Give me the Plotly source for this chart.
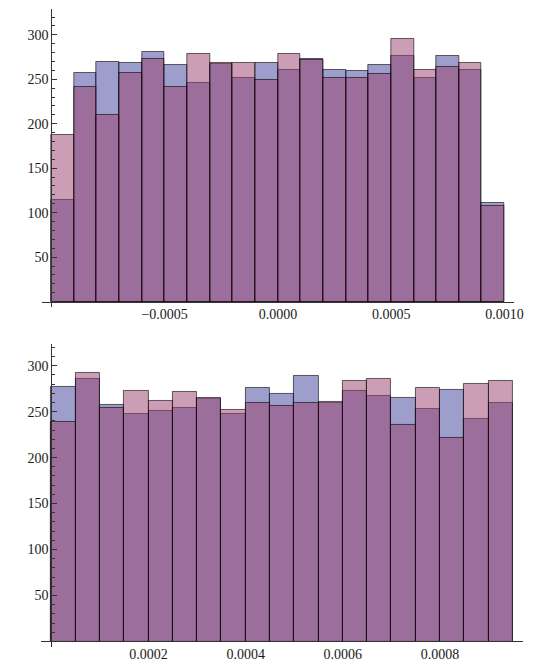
import plotly.graph_objects as go

# ---- top histogram: 20 bins of width 1e-4 from -0.001 to 0.001 ----
top_bin_start = -0.001
top_bin_width = 0.0001
top_blue = [114, 257, 270, 268, 281, 266, 246, 267, 252, 268,
            261, 273, 261, 259, 266, 276, 251, 276, 260, 111]
top_pink = [187, 241, 210, 257, 273, 241, 279, 268, 268, 249,
            279, 272, 252, 252, 256, 295, 261, 264, 268, 107]
top_tickvals = [-0.0005, 0.0, 0.0005, 0.001]
top_ticktext = ["\u22120.0005", "0.0000", "0.0005", "0.0010"]

# ---- bottom histogram: 19 bins of width 5e-5 from 0 to 0.00095 ----
bot_bin_start = 0.0
bot_bin_width = 0.00005
bot_blue = [277, 286, 257, 248, 251, 254, 264, 247, 276, 269,
            289, 259, 273, 267, 265, 253, 274, 242, 260]
bot_pink = [239, 292, 254, 273, 262, 271, 265, 252, 260, 256,
            260, 261, 283, 286, 236, 276, 221, 280, 283]
bot_tickvals = [0.0002, 0.0004, 0.0006, 0.0008]
bot_ticktext = ["0.0002", "0.0004", "0.0006", "0.0008"]

y_major = [50, 100, 150, 200, 250, 300]

BLUE = "rgba(61,61,153,0.5)"
PINK = "rgba(153,61,107,0.5)"
EDGE = "rgba(0,0,0,0.6)"
AXIS = "#333333"
FONT = dict(family="Liberation Serif", size=14, color="#1a1a1a")

W, H = 540, 662


def centers(start, width, n):
    return [start + width * (i + 0.5) for i in range(n)]


fig = go.Figure()

for vals, col in ((top_blue, BLUE), (top_pink, PINK)):
    fig.add_trace(go.Bar(
        x=centers(top_bin_start, top_bin_width, len(vals)), y=vals,
        width=top_bin_width, marker=dict(color=col, line=dict(color=EDGE, width=1)),
        xaxis="x", yaxis="y", showlegend=False, hoverinfo="skip"))

for vals, col in ((bot_blue, BLUE), (bot_pink, PINK)):
    fig.add_trace(go.Bar(
        x=centers(bot_bin_start, bot_bin_width, len(vals)), y=vals,
        width=bot_bin_width, marker=dict(color=col, line=dict(color=EDGE, width=1)),
        xaxis="x2", yaxis="y2", showlegend=False, hoverinfo="skip"))


def px_x(p):
    return p / W


def px_y(p):
    return (H - p) / H


# pixel geometry of the two panels
top_base, top_scale = 302.5, 0.892      # baseline row, px per count
bot_base, bot_scale = 643.4, 0.922
y_low = -6

top_ymax = (top_base - 9.0) / top_scale
bot_ymax = (bot_base - 345.0) / bot_scale

yaxis_common = dict(
    anchor="free", position=px_x(52.3),
    showline=True, linecolor=AXIS, linewidth=1,
    ticks="inside", ticklen=5, tickcolor=AXIS, tickwidth=1,
    tickvals=y_major, ticktext=[str(v) for v in y_major],
    minor=dict(ticks="inside", ticklen=2.5, tickcolor=AXIS, tickwidth=1,
               tickvals=list(range(0, 330, 10))),
    showgrid=False, zeroline=False, tickfont=FONT,
)

xaxis_common = dict(
    anchor="free", showline=True, linecolor=AXIS, linewidth=1,
    ticks="", showgrid=False, zeroline=False, tickfont=FONT,
)

fig.update_layout(
    width=W, height=H,
    margin=dict(l=0, r=0, t=0, b=0),
    paper_bgcolor="white", plot_bgcolor="white",
    barmode="overlay", bargap=0,
    xaxis=dict(xaxis_common, domain=[px_x(43.1), px_x(523.2)],
               range=[-0.00104, 0.00104], position=px_y(top_base),
               tickvals=top_tickvals, ticktext=top_ticktext),
    yaxis=dict(yaxis_common, domain=[px_y(top_base - y_low * top_scale), px_y(9.0)],
               range=[y_low, top_ymax]),
    xaxis2=dict(xaxis_common, domain=[px_x(41.7), px_x(533.0)],
                range=[(41.7 - 52.3) / 495000, (533.0 - 52.3) / 495000],
                position=px_y(bot_base),
                tickvals=bot_tickvals, ticktext=bot_ticktext),
    yaxis2=dict(yaxis_common, domain=[px_y(bot_base - y_low * bot_scale), px_y(345.0)],
                range=[y_low, bot_ymax]),
)

fig.write_html("out.html")
